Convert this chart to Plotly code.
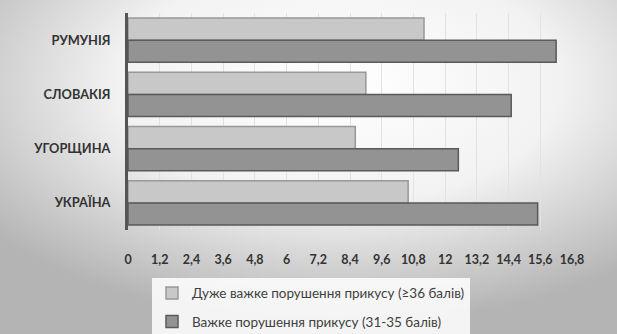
import plotly.graph_objects as go
import base64

categories = ["РУМУНІЯ", "СЛОВАКІЯ", "УГОРЩИНА", "УКРАЇНА"]
very_severe = [11.2, 9.0, 8.6, 10.6]   # Дуже важке порушення прикусу (≥36 балів)
severe = [16.2, 14.5, 12.5, 15.5]      # Важке порушення прикусу (31-35 балів)
tick_vals = [0, 1.2, 2.4, 3.6, 4.8, 6, 7.2, 8.4, 9.6, 10.8, 12, 13.2, 14.4, 15.6, 16.8]
tick_text = ["0", "1,2", "2,4", "3,6", "4,8", "6", "7,2", "8,4", "9,6", "10,8", "12", "13,2", "14,4", "15,6", "16,8"]
series_names = ["Дуже важке порушення прикусу (≥36 балів)", "Важке порушення прикусу (31-35 балів)"]

svg = """<svg xmlns='http://www.w3.org/2000/svg' width='617' height='334'>
<defs><radialGradient id='g' cx='0.55' cy='0.25' r='0.72'>
<stop offset='0' stop-color='#ffffff'/><stop offset='0.5' stop-color='#f2f2f2'/>
<stop offset='1' stop-color='#b4b4b4'/></radialGradient></defs>
<rect width='617' height='334' fill='url(#g)'/></svg>"""
bg_uri = "data:image/svg+xml;base64," + base64.b64encode(svg.encode()).decode()

fig = go.Figure()
fig.add_trace(go.Bar(
    y=categories, x=very_severe, orientation="h", name=series_names[0],
    legendgroup="a",
    marker=dict(color="#c8c8c8", line=dict(color="#989898", width=1.5)),
))
fig.add_trace(go.Bar(
    y=categories, x=severe, orientation="h", name=series_names[1],
    legendgroup="b",
    marker=dict(color="#939393", line=dict(color="#5a5a5a", width=1.5)),
))

fig.update_layout(
    width=617, height=334,
    margin=dict(l=128, r=45, t=13, b=104, autoexpand=False),
    paper_bgcolor="#eeeeee", plot_bgcolor="rgba(255,255,255,0.55)",
    barmode="group", bargap=0.18, bargroupgap=0,
    font=dict(family="Lato, Open Sans, sans-serif", color="#333333"),
    images=[dict(source=bg_uri, xref="paper", yref="paper", x=-128/444, y=1 + 13/217,
                 sizex=617/444, sizey=334/217, xanchor="left", yanchor="top",
                 sizing="stretch", layer="below")],
    xaxis=dict(range=[0, 16.8], tickvals=tick_vals, ticktext=tick_text,
               showgrid=True, gridcolor="#e2e2e2", gridwidth=1, zeroline=False,
               showline=False, ticks="", ticklabelstandoff=20,
               tickfont=dict(size=12.5, color="#333333", family="Lato, sans-serif", weight="bold")),
    yaxis=dict(autorange="reversed", showgrid=False, zeroline=False,
               showline=True, linecolor="#555555", linewidth=3,
               ticks="", ticklabelstandoff=12,
               tickfont=dict(size=12.8, color="#333333", family="Lato, sans-serif", weight="bold")),
    legend=dict(orientation="v", x=(152 - 128) / 444, xanchor="left", y=-0.22, yanchor="top",
                bgcolor="rgba(255,255,255,0.85)", borderwidth=0,
                traceorder="grouped", tracegroupgap=8,
                font=dict(size=13.5, color="#404040", family="Lato, sans-serif"),
                itemwidth=30),
    showlegend=True,
)

fig.write_html("out.html")
